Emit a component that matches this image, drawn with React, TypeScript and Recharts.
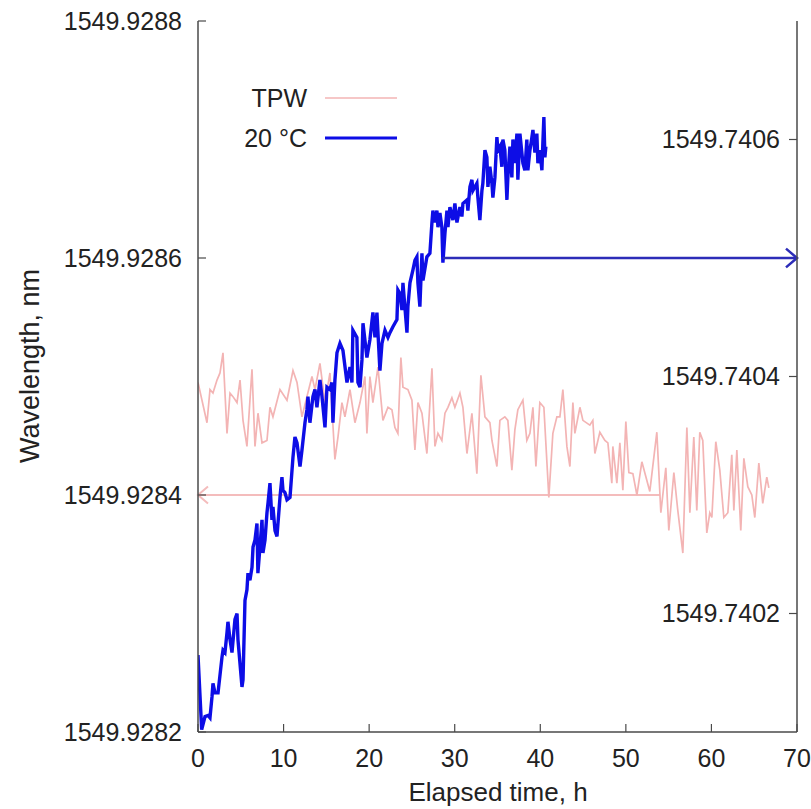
import React from 'react';
import { LineChart, Line, XAxis, YAxis, ReferenceLine, Legend } from 'recharts';

// ---- data ----
const tpwTime = [
  0, 1.05, 1.4, 1.75, 2.22, 2.57, 2.92, 3.39, 3.74, 4.09, 4.56, 4.91, 5.26, 5.72, 6.07, 6.31, 6.66, 7.01, 7.48, 8.06,
  8.41, 8.76, 9.58, 10.4, 11.1, 11.57, 12.15, 12.73, 13.32, 13.67, 14.25, 14.84, 15.42, 16.0, 16.36, 16.82, 17.17, 17.76, 18.34, 18.93,
  19.51, 19.74, 20.09, 20.44, 21.03, 21.61, 22.2, 22.66, 23.01, 23.36, 23.71, 23.95, 24.53, 25.0, 25.35, 25.7, 26.17, 26.75, 27.34, 27.69,
  28.04, 28.5, 28.86, 29.21, 29.67, 30.02, 30.61, 30.96, 31.43, 32.01, 32.59, 33.06, 33.53, 34.11, 34.35, 34.93, 35.28, 35.86, 36.21, 36.68,
  37.03, 37.38, 37.97, 38.43, 38.79, 39.14, 39.49, 39.95, 40.42, 41.0, 41.47, 41.94, 42.29, 42.64, 43.11, 43.46, 43.81, 44.04, 44.63, 44.98,
  45.79, 46.14, 46.38, 46.96, 47.55, 47.9, 48.36, 48.48, 48.95, 49.3, 49.65, 50.0, 50.35, 50.82, 51.29, 51.87, 52.8, 53.62, 54.09, 54.67,
  55.02, 55.61, 56.07, 56.66, 57.13, 57.48, 57.94, 58.29, 58.64, 58.99, 59.46, 59.81, 60.05, 60.51, 60.98, 61.45, 61.92, 62.38, 62.62, 62.97,
  63.43, 63.79, 64.25, 64.72, 65.07, 65.54, 66.0, 66.47, 66.71,
];
const tpwWavelength = [
  1549.928495, 1549.928461, 1549.928489, 1549.928486, 1549.928497, 1549.928503, 1549.92852, 1549.928452, 1549.928486, 1549.928483,
  1549.928478, 1549.928497, 1549.928463, 1549.928441, 1549.92848, 1549.928506, 1549.928441, 1549.928469, 1549.928444, 1549.928446,
  1549.928474, 1549.928466, 1549.928489, 1549.92848, 1549.928505, 1549.928495, 1549.928466, 1549.928483, 1549.9285, 1549.928489,
  1549.928511, 1549.928478, 1549.928503, 1549.92843, 1549.928449, 1549.928478, 1549.928466, 1549.928489, 1549.928461, 1549.928478,
  1549.9285, 1549.928452, 1549.9285, 1549.928478, 1549.928508, 1549.928463, 1549.928474, 1549.928472, 1549.928457, 1549.928452,
  1549.928516, 1549.928491, 1549.928489, 1549.92848, 1549.928438, 1549.928478, 1549.928469, 1549.928435, 1549.928507, 1549.928441,
  1549.928452, 1549.928446, 1549.928469, 1549.928474, 1549.928482, 1549.928474, 1549.928486, 1549.928474, 1549.928435, 1549.928469,
  1549.928418, 1549.928501, 1549.928466, 1549.928461, 1549.928446, 1549.928424, 1549.928463, 1549.928466, 1549.928463, 1549.928421,
  1549.928455, 1549.928472, 1549.92848, 1549.928446, 1549.928452, 1549.928474, 1549.928424, 1549.928478, 1549.928474, 1549.928398,
  1549.928452, 1549.928466, 1549.928466, 1549.928489, 1549.928441, 1549.928424, 1549.928478, 1549.928452, 1549.928474, 1549.928463,
  1549.928459, 1549.928463, 1549.928435, 1549.928453, 1549.928446, 1549.928444, 1549.92841, 1549.928441, 1549.92841, 1549.928444,
  1549.928404, 1549.928462, 1549.928419, 1549.928418, 1549.9284, 1549.928428, 1549.928403, 1549.928453, 1549.928385, 1549.928423,
  1549.92837, 1549.928419, 1549.928387, 1549.928351, 1549.928457, 1549.928385, 1549.928449, 1549.928387, 1549.928453, 1549.928446,
  1549.928368, 1549.928385, 1549.928381, 1549.928445, 1549.928421, 1549.928381, 1549.928385, 1549.928434, 1549.928387, 1549.928438,
  1549.92837, 1549.928431, 1549.928407, 1549.9284, 1549.928381, 1549.928427, 1549.928393, 1549.928415, 1549.928406,
];

const c20Time = [
  0, 0.43, 0.82, 1.17, 1.4, 1.64, 1.75, 1.99, 2.34, 2.8, 2.92, 3.15, 3.39, 3.5, 3.74, 3.97, 4.32, 4.56, 4.67, 5.14,
  5.26, 5.49, 5.72, 5.84, 6.07, 6.31, 6.43, 6.66, 6.89, 7.0, 7.24, 7.48, 7.59, 7.83, 8.06, 8.18, 8.41, 8.64, 8.76, 9.0,
  9.23, 9.58, 9.81, 9.93, 10.16, 10.4, 10.75, 11.1, 11.33, 11.57, 11.92, 12.15, 12.5, 12.73, 12.85, 13.08, 13.43, 13.67, 13.9, 14.25,
  14.49, 14.84, 15.07, 15.42, 15.65, 15.77, 16.0, 16.24, 16.59, 16.94, 17.41, 17.76, 17.99, 18.1, 18.57, 18.69, 18.93, 19.16, 19.28, 19.74,
  20.09, 20.44, 20.68, 20.91, 21.26, 21.5, 21.85, 22.2, 22.43, 22.78, 23.25, 23.36, 23.6, 23.83, 23.95, 24.42, 24.53, 24.77, 25.12, 25.35,
  25.58, 25.7, 25.93, 26.17, 26.29, 26.75, 27.1, 27.34, 27.45, 27.69, 27.92, 28.04, 28.27, 28.5, 28.62, 28.86, 29.09, 29.21, 29.44, 29.79,
  30.02, 30.26, 30.61, 30.84, 30.96, 31.43, 31.54, 31.78, 32.01, 32.13, 32.59, 32.71, 32.94, 33.18, 33.29, 33.53, 33.76, 33.88, 34.11, 34.35,
  34.46, 34.7, 34.93, 35.05, 35.28, 35.51, 35.63, 35.86, 36.1, 36.21, 36.45, 36.68, 36.8, 37.03, 37.27, 37.38, 37.62, 37.97, 38.2, 38.43,
  38.55, 38.79, 39.02, 39.14, 39.37, 39.6, 39.72, 39.95, 40.19, 40.3, 40.42, 40.54, 40.65,
];
const c20Wavelength = [
  1549.740165, 1549.740102, 1549.740113, 1549.740114, 1549.740112, 1549.74013, 1549.740141, 1549.740133, 1549.740133, 1549.740163,
  1549.740169, 1549.740167, 1549.740184, 1549.740193, 1549.740178, 1549.740167, 1549.740195, 1549.7402, 1549.740178, 1549.740138,
  1549.740144, 1549.740211, 1549.74022, 1549.740234, 1549.740228, 1549.740239, 1549.740256, 1549.740262, 1549.740276, 1549.740234,
  1549.740256, 1549.740279, 1549.740251, 1549.740262, 1549.740285, 1549.740293, 1549.74031, 1549.740279, 1549.74029, 1549.74027,
  1549.740265, 1549.740298, 1549.740315, 1549.740304, 1549.740302, 1549.740296, 1549.740298, 1549.740332, 1549.740349, 1549.740344,
  1549.740324, 1549.740338, 1549.740361, 1549.740372, 1549.740383, 1549.740361, 1549.740383, 1549.740389, 1549.740374, 1549.740397,
  1549.740383, 1549.740357, 1549.740391, 1549.740389, 1549.740395, 1549.740361, 1549.740397, 1549.74042, 1549.740428, 1549.740422,
  1549.740395, 1549.740408, 1549.740395, 1549.740439, 1549.740433, 1549.740395, 1549.740391, 1549.740414, 1549.740445, 1549.740416,
  1549.740431, 1549.740454, 1549.740433, 1549.740454, 1549.740405, 1549.740428, 1549.740439, 1549.740433, 1549.740437, 1549.740442,
  1549.740448, 1549.740473, 1549.74047, 1549.740456, 1549.740479, 1549.740437, 1549.740459, 1549.740479, 1549.74049, 1549.740498,
  1549.740501, 1549.740479, 1549.740459, 1549.740504, 1549.740481, 1549.740501, 1549.740504, 1549.74053, 1549.74054, 1549.74053,
  1549.74054, 1549.740526, 1549.740538, 1549.740526, 1549.740496, 1549.740521, 1549.74054, 1549.740526, 1549.740543, 1549.740532,
  1549.740546, 1549.74053, 1549.740543, 1549.740535, 1549.740546, 1549.740549, 1549.74054, 1549.74056, 1549.740566, 1549.740557,
  1549.740563, 1549.740551, 1549.740532, 1549.740557, 1549.740563, 1549.740591, 1549.740585, 1549.74056, 1549.740577, 1549.740563,
  1549.740551, 1549.740568, 1549.740602, 1549.740591, 1549.740594, 1549.740577, 1549.7406, 1549.740591, 1549.740549, 1549.740568,
  1549.740594, 1549.740568, 1549.7406, 1549.74058, 1549.740605, 1549.740566, 1549.740605, 1549.74058, 1549.740574, 1549.7406,
  1549.740574, 1549.740591, 1549.740602, 1549.740608, 1549.740589, 1549.740605, 1549.74058, 1549.740591, 1549.740574, 1549.740597,
  1549.740619, 1549.740585, 1549.740594,
];

const seriesNames = ['TPW', '20 °C'];
const xTicks = [0, 10, 20, 30, 40, 50, 60, 70];
const xDomain = [0, 70];
const leftTicks = [1549.9282, 1549.9284, 1549.9286, 1549.9288];
const leftDomain = [1549.9282, 1549.9288];
const rightTicks = [1549.7402, 1549.7404, 1549.7406];
const rightDomain = [1549.7401, 1549.7407];
const tpwArrow = [54, 0, 1549.9284]; // from (h), to (h), level (left axis)
const c20Arrow = [28.6, 70, 1549.7405]; // from (h), to (h), level (right axis)

// ---- styles ----
const FONT = '"Liberation Sans", Arial, Helvetica, sans-serif';
const TEXT = '#222';
const FRAME = '#4a4a4a';
const PINK = '#f3b4b4';
const PINK_ARROW = '#f4bcbc';
const BLUE = '#0d0de6';
const BLUE_ARROW = '#2c2cb8';
const TICK_FS = 25;

const tpwData = tpwTime.map((t, i) => ({ t, w: tpwWavelength[i] }));
const c20Data = c20Time.map((t, i) => ({ t, w: c20Wavelength[i] }));

const BottomTick = (props: any) => {
  const { x, y, payload } = props;
  return (
    <g>
      <line x1={x} y1={y} x2={x} y2={y - 8} stroke={FRAME} strokeWidth={1.2} />
      <text x={x} y={y + 26} dy="0.35em" textAnchor="middle" fill={TEXT} fontSize={TICK_FS} fontFamily={FONT}>
        {payload.value}
      </text>
    </g>
  );
};
const TopTick = (props: any) => {
  const { x, y } = props;
  return <line x1={x} y1={y} x2={x} y2={y + 8} stroke={FRAME} strokeWidth={1.2} />;
};
const LeftTick = (props: any) => {
  const { x, y, payload } = props;
  return (
    <g>
      <line x1={x} y1={y} x2={x + 8} y2={y} stroke={FRAME} strokeWidth={1.2} />
      <text x={x - 16} y={y} dy="0.35em" textAnchor="end" fill={TEXT} fontSize={TICK_FS} fontFamily={FONT}>
        {Number(payload.value).toFixed(4)}
      </text>
    </g>
  );
};
const RightTick = (props: any) => {
  const { x, y, payload } = props;
  return (
    <g>
      <line x1={x} y1={y} x2={x - 8} y2={y} stroke={FRAME} strokeWidth={1.2} />
      <text x={x - 17} y={y} dy="0.35em" textAnchor="end" fill={TEXT} fontSize={TICK_FS} fontFamily={FONT}>
        {Number(payload.value).toFixed(4)}
      </text>
    </g>
  );
};

const arrowShape = (color: string, width: number, head: number) => (props: any) => {
  const { x1, y1, x2, y2 } = props;
  const dir = x2 > x1 ? 1 : -1;
  return (
    <g>
      <line x1={x1} y1={y1} x2={x2} y2={y2} stroke={color} strokeWidth={width} />
      <polyline
        points={`${x2 - dir * head},${y2 - head * 0.85} ${x2},${y2} ${x2 - dir * head},${y2 + head * 0.85}`}
        fill="none"
        stroke={color}
        strokeWidth={width}
      />
    </g>
  );
};

const LegendBox = (props: any) => {
  const payload = ((props.payload || []) as any[])
    .slice()
    .sort((a, b) => seriesNames.indexOf(a.value) - seriesNames.indexOf(b.value));
  const widths = [1.6, 3.2];
  return (
    <svg width={210} height={90} style={{ overflow: 'visible' }}>
      {payload.map((item, i) => (
        <g key={i}>
          <text x={107} y={23 + i * 40} dy="0.35em" textAnchor="end" fill={TEXT} fontSize={25} fontFamily={FONT}>
            {item.value}
          </text>
          <line x1={125} x2={197} y1={23 + i * 40} y2={23 + i * 40} stroke={item.color} strokeWidth={widths[i] || 2} />
        </g>
      ))}
    </svg>
  );
};

export default function App() {
  return (
    <div style={{ position: 'absolute', left: 0, top: 0, width: 811, height: 809, background: '#fff' }}>
      <LineChart width={811} height={809} margin={{ top: 21, right: 0, bottom: 0, left: 78 }}>
        <XAxis
          xAxisId="bottom"
          dataKey="t"
          type="number"
          domain={xDomain}
          ticks={xTicks}
          interval={0}
          allowDataOverflow
          height={77}
          tickSize={0}
          tickMargin={0}
          tickLine={false}
          axisLine={{ stroke: FRAME, strokeWidth: 1.5 }}
          tick={<BottomTick />}
          label={() => (
            <text x={498} y={792} dy="0.35em" textAnchor="middle" fill={TEXT} fontSize={26} fontFamily={FONT}>
              Elapsed time, h
            </text>
          )}
        />
        <XAxis
          xAxisId="top"
          orientation="top"
          dataKey="t"
          type="number"
          domain={xDomain}
          ticks={xTicks}
          interval={0}
          allowDataOverflow
          height={0}
          tickSize={0}
          tickMargin={0}
          tickLine={false}
          axisLine={{ stroke: FRAME, strokeWidth: 1.5 }}
          tick={<TopTick />}
        />
        <YAxis
          yAxisId="left"
          type="number"
          domain={leftDomain}
          ticks={leftTicks}
          interval={0}
          allowDataOverflow
          width={120}
          tickSize={0}
          tickMargin={0}
          tickLine={false}
          axisLine={{ stroke: FRAME, strokeWidth: 1.5 }}
          tick={<LeftTick />}
          label={() => (
            <text
              x={30}
              y={366}
              dy="0.35em"
              transform="rotate(-90 30 366)"
              textAnchor="middle"
              fill={TEXT}
              fontSize={27}
              fontFamily={FONT}
            >
              Wavelength, nm
            </text>
          )}
        />
        <YAxis
          yAxisId="right"
          orientation="right"
          type="number"
          domain={rightDomain}
          ticks={rightTicks}
          interval={0}
          allowDataOverflow
          width={14}
          tickSize={0}
          tickMargin={0}
          tickLine={false}
          axisLine={{ stroke: FRAME, strokeWidth: 1.5 }}
          tick={<RightTick />}
        />
        <ReferenceLine
          xAxisId="bottom"
          yAxisId="left"
          segment={[
            { x: tpwArrow[0], y: tpwArrow[2] },
            { x: tpwArrow[1], y: tpwArrow[2] },
          ]}
          shape={arrowShape(PINK_ARROW, 2, 10)}
        />
        <Line
          data={tpwData}
          xAxisId="bottom"
          yAxisId="left"
          dataKey="w"
          name={seriesNames[0]}
          type="linear"
          stroke={PINK}
          strokeWidth={1.7}
          dot={false}
          isAnimationActive={false}
        />
        <Line
          data={c20Data}
          xAxisId="bottom"
          yAxisId="right"
          dataKey="w"
          name={seriesNames[1]}
          type="linear"
          stroke={BLUE}
          strokeWidth={3.4}
          dot={false}
          isAnimationActive={false}
        />
        <ReferenceLine
          xAxisId="bottom"
          yAxisId="right"
          segment={[
            { x: c20Arrow[0], y: c20Arrow[2] },
            { x: c20Arrow[1], y: c20Arrow[2] },
          ]}
          shape={arrowShape(BLUE_ARROW, 2.5, 11)}
        />
        <Legend
          layout="vertical"
          align="center"
          verticalAlign="middle"
          content={<LegendBox />}
          wrapperStyle={{ left: 200, top: 75, width: 210, height: 90 }}
        />
      </LineChart>
    </div>
  );
}
